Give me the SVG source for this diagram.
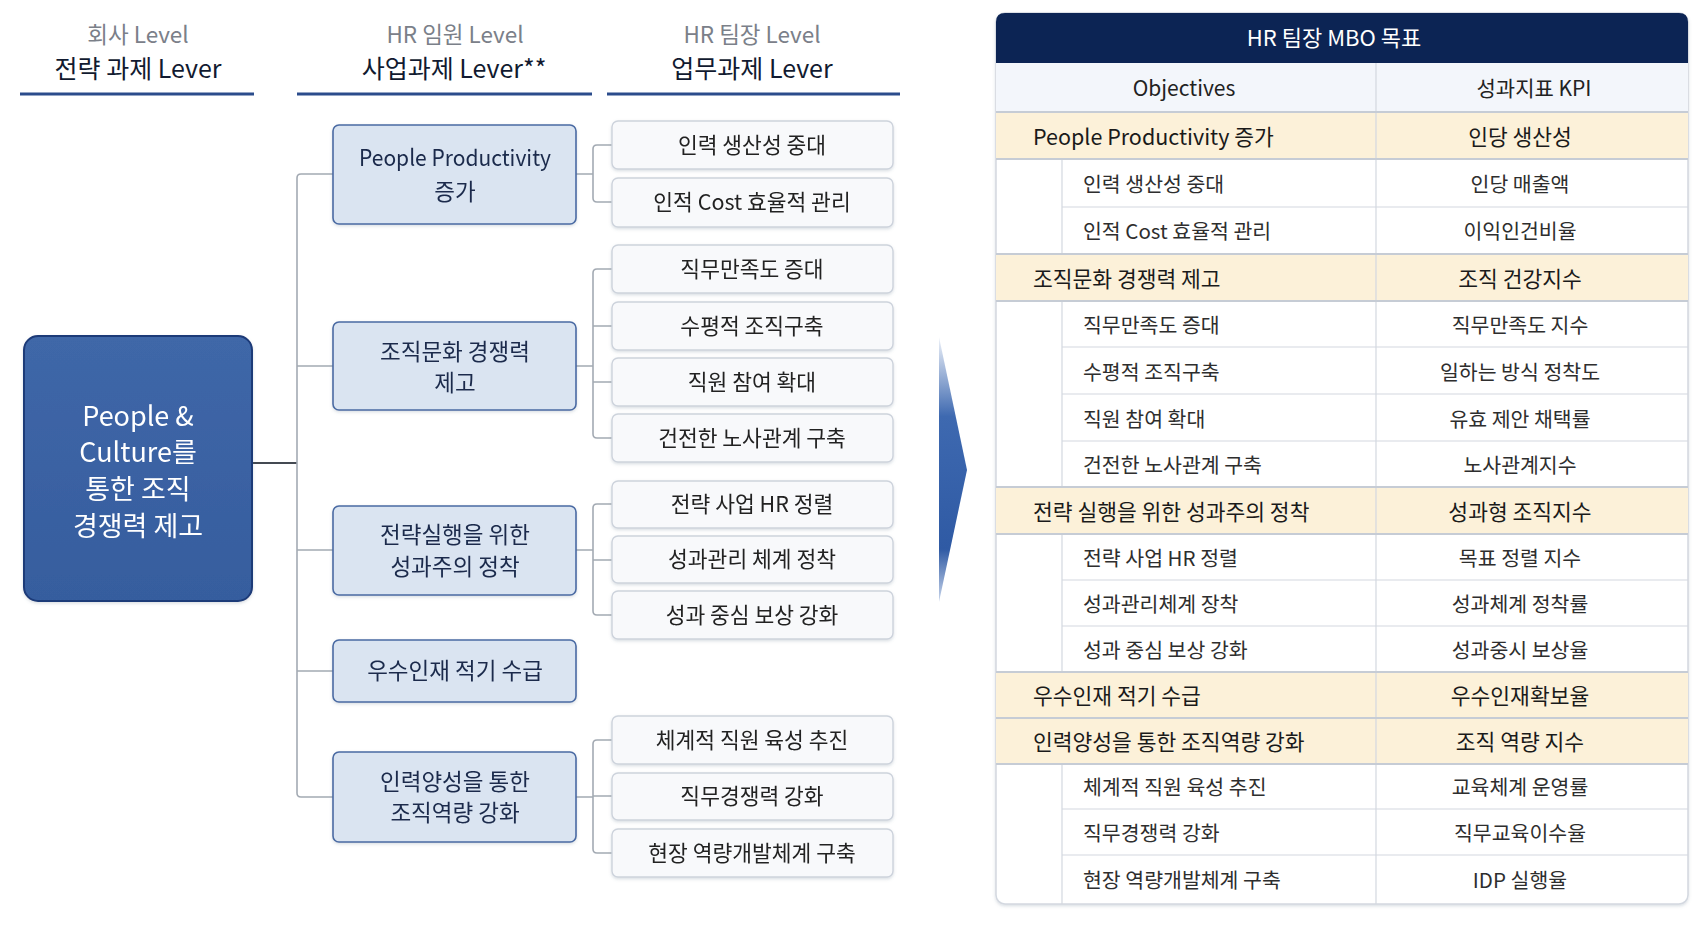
<svg xmlns="http://www.w3.org/2000/svg" width="1701" height="925" viewBox="0 0 1701 925">
<style>
text{font-family:"Noto Sans CJK KR","Noto Sans",sans-serif;}
.lvl{font-size:22.5px;fill:#7b8089;text-anchor:middle;}
.lev{font-size:25px;fill:#111a30;text-anchor:middle;font-weight:400;}
.uline{stroke:#2b4c8c;stroke-width:3;}
.mid rect{fill:#dae4f1;stroke:#4a6aa3;stroke-width:1.6;}
.mid text{font-size:22.5px;fill:#1a2a4c;text-anchor:middle;}
.leaf rect{fill:#f8f9fb;stroke:#cdd3dc;stroke-width:1.4;}
.leaf text{font-size:21.5px;fill:#222;text-anchor:middle;}
.conn{fill:none;stroke:#a3aab3;stroke-width:1.6;}
.trunk{fill:none;stroke:#444a52;stroke-width:2.2;}
.sec{fill:#fcf1d9;}
.tline{stroke:#d3d8e0;stroke-width:1.2;}
.sline{stroke:#c6ccd5;stroke-width:2;}
.st{font-size:21.5px;fill:#1a1a1a;}
.sk{font-size:21.5px;fill:#1a1a1a;text-anchor:middle;}
.sub{font-size:20.5px;fill:#2e2e2e;}
.subk{font-size:20.5px;fill:#2e2e2e;text-anchor:middle;}
</style>
<defs>
<linearGradient id="arrowGrad" x1="0" y1="0" x2="0" y2="1">
<stop offset="0" stop-color="#eef2f9"/>
<stop offset="0.3" stop-color="#3e69b0"/>
<stop offset="0.8" stop-color="#2f5aa4"/>
<stop offset="1" stop-color="#c9d6ec"/>
</linearGradient>
<linearGradient id="coreGrad" x1="0" y1="0" x2="0" y2="1">
<stop offset="0" stop-color="#3f67a8"/>
<stop offset="1" stop-color="#365d9e"/>
</linearGradient>
<filter id="sh" x="-10%" y="-10%" width="120%" height="130%">
<feDropShadow dx="0" dy="1.5" stdDeviation="1.5" flood-color="#6a7a90" flood-opacity="0.25"/>
</filter>
</defs>
<rect width="1701" height="925" fill="#ffffff"/>

<g id="headers">
<text class="lvl" x="138" y="43">회사 Level</text>
<text class="lev" x="138" y="78">전략 과제 Lever</text>
<line class="uline" x1="20" y1="94" x2="254" y2="94"/>
<text class="lvl" x="455" y="43">HR 임원 Level</text>
<text class="lev" x="454" y="78">사업과제 Lever**</text>
<line class="uline" x1="297" y1="94" x2="592" y2="94"/>
<text class="lvl" x="752" y="43">HR 팀장 Level</text>
<text class="lev" x="752" y="78">업무과제 Lever</text>
<line class="uline" x1="607" y1="94" x2="900" y2="94"/>
</g>

<g id="connectors">
<path class="trunk" d="M252 463 H297"/>
<path class="conn" d="M333 174 H301 Q297 174 297 178 V793 Q297 797 301 797 H333"/>
<path class="conn" d="M297 366 H333 M297 550 H333 M297 671 H333"/>
<path class="conn" d="M576 174 H593 M612 145 H597 Q593 145 593 149 V198 Q593 202 597 202 H612"/>
<path class="conn" d="M576 366 H593 M612 269 H597 Q593 269 593 273 V434 Q593 438 597 438 H612 M593 326 H612 M593 382 H612"/>
<path class="conn" d="M576 550 H593 M612 504 H597 Q593 504 593 508 V611 Q593 615 597 615 H612 M593 560 H612"/>
<path class="conn" d="M576 797 H593 M612 740 H597 Q593 740 593 744 V849 Q593 853 597 853 H612 M593 796 H612"/>
</g>

<g id="core" filter="url(#sh)">
<rect x="24" y="336" width="228" height="265" rx="14" fill="url(#coreGrad)" stroke="#1d3a78" stroke-width="2"/>
<text x="138" y="426" font-size="27" fill="#ffffff" text-anchor="middle">People &amp;</text>
<text x="138" y="462" font-size="27" fill="#ffffff" text-anchor="middle">Culture를</text>
<text x="138" y="499" font-size="27" fill="#ffffff" text-anchor="middle">통한 조직</text>
<text x="138" y="536" font-size="27" fill="#ffffff" text-anchor="middle">경쟁력 제고</text>
</g>

<g id="m1" class="mid" filter="url(#sh)"><rect x="333" y="125" width="243" height="99" rx="6"/><text x="455" y="166" textLength="192" lengthAdjust="spacingAndGlyphs">People Productivity</text><text x="455" y="200">증가</text></g>
<g id="m2" class="mid" filter="url(#sh)"><rect x="333" y="322" width="243" height="88" rx="6"/><text x="455" y="360">조직문화 경쟁력</text><text x="455" y="391">제고</text></g>
<g id="m3" class="mid" filter="url(#sh)"><rect x="333" y="506" width="243" height="89" rx="6"/><text x="455" y="543">전략실행을 위한</text><text x="455" y="575">성과주의 정착</text></g>
<g id="m4" class="mid" filter="url(#sh)"><rect x="333" y="640" width="243" height="62" rx="6"/><text x="455" y="679">우수인재 적기 수급</text></g>
<g id="m5" class="mid" filter="url(#sh)"><rect x="333" y="752" width="243" height="90" rx="6"/><text x="455" y="790">인력양성을 통한</text><text x="455" y="821">조직역량 강화</text></g>

<g id="l1" class="leaf" filter="url(#sh)"><rect x="612" y="121" width="281" height="48" rx="6"/><text x="752" y="153">인력 생산성 중대</text></g>
<g id="l2" class="leaf" filter="url(#sh)"><rect x="612" y="178" width="281" height="49" rx="6"/><text x="752" y="210">인적 Cost 효율적 관리</text></g>
<g id="l3" class="leaf" filter="url(#sh)"><rect x="612" y="245" width="281" height="48" rx="6"/><text x="752" y="277">직무만족도 증대</text></g>
<g id="l4" class="leaf" filter="url(#sh)"><rect x="612" y="302" width="281" height="48" rx="6"/><text x="752" y="334">수평적 조직구축</text></g>
<g id="l5" class="leaf" filter="url(#sh)"><rect x="612" y="358" width="281" height="48" rx="6"/><text x="752" y="390">직원 참여 확대</text></g>
<g id="l6" class="leaf" filter="url(#sh)"><rect x="612" y="414" width="281" height="48" rx="6"/><text x="752" y="446">건전한 노사관계 구축</text></g>
<g id="l7" class="leaf" filter="url(#sh)"><rect x="612" y="481" width="281" height="47" rx="6"/><text x="752" y="512">전략 사업 HR 정렬</text></g>
<g id="l8" class="leaf" filter="url(#sh)"><rect x="612" y="536" width="281" height="47" rx="6"/><text x="752" y="567">성과관리 체계 정착</text></g>
<g id="l9" class="leaf" filter="url(#sh)"><rect x="612" y="591" width="281" height="48" rx="6"/><text x="752" y="623">성과 중심 보상 강화</text></g>
<g id="l10" class="leaf" filter="url(#sh)"><rect x="612" y="716" width="281" height="48" rx="6"/><text x="752" y="748">체계적 직원 육성 추진</text></g>
<g id="l11" class="leaf" filter="url(#sh)"><rect x="612" y="773" width="281" height="47" rx="6"/><text x="752" y="804">직무경쟁력 강화</text></g>
<g id="l12" class="leaf" filter="url(#sh)"><rect x="612" y="829" width="281" height="48" rx="6"/><text x="752" y="861">현장 역량개발체계 구축</text></g>

<g id="arrow">
<polygon points="939,337 967,470 939,602" fill="url(#arrowGrad)"/>
</g>

<g id="mbo-table">
<rect x="996" y="13" width="692" height="891" rx="9" fill="#ffffff" stroke="#d3d8e0" stroke-width="1.5" filter="url(#sh)"/>
<path d="M996 63 V22 Q996 13 1005 13 H1679 Q1688 13 1688 22 V63 Z" fill="#0c2454"/>
<text x="1334" y="46" font-size="22" fill="#ffffff" text-anchor="middle">HR 팀장 MBO 목표</text>
<rect x="996" y="63" width="692" height="49" fill="#f3f6fb"/>
<text x="1184" y="96" font-size="21" fill="#222" text-anchor="middle">Objectives</text>
<text x="1534" y="96" font-size="21" fill="#222" text-anchor="middle">성과지표 KPI</text>

<rect class="sec" x="996" y="112" width="692" height="47"/>
<rect class="sec" x="996" y="254" width="692" height="47"/>
<rect class="sec" x="996" y="487" width="692" height="47"/>
<rect class="sec" x="996" y="672" width="692" height="92"/>

<line class="tline" x1="1062" y1="207" x2="1688" y2="207"/>
<line class="tline" x1="1062" y1="347" x2="1688" y2="347"/>
<line class="tline" x1="1062" y1="394" x2="1688" y2="394"/>
<line class="tline" x1="1062" y1="441" x2="1688" y2="441"/>
<line class="tline" x1="1062" y1="580" x2="1688" y2="580"/>
<line class="tline" x1="1062" y1="626" x2="1688" y2="626"/>
<line class="tline" x1="1062" y1="809" x2="1688" y2="809"/>
<line class="tline" x1="1062" y1="855" x2="1688" y2="855"/>
<line class="tline" x1="1062" y1="159" x2="1062" y2="254"/>
<line class="tline" x1="1062" y1="301" x2="1062" y2="487"/>
<line class="tline" x1="1062" y1="534" x2="1062" y2="672"/>
<line class="tline" x1="1062" y1="764" x2="1062" y2="904"/>
<line class="tline" x1="1376" y1="63" x2="1376" y2="904"/>

<line class="sline" x1="996" y1="112" x2="1688" y2="112"/>
<line class="sline" x1="996" y1="159" x2="1688" y2="159"/>
<line class="sline" x1="996" y1="254" x2="1688" y2="254"/>
<line class="sline" x1="996" y1="301" x2="1688" y2="301"/>
<line class="sline" x1="996" y1="487" x2="1688" y2="487"/>
<line class="sline" x1="996" y1="534" x2="1688" y2="534"/>
<line class="sline" x1="996" y1="672" x2="1688" y2="672"/>
<line class="sline" x1="996" y1="718" x2="1688" y2="718"/>
<line class="sline" x1="996" y1="764" x2="1688" y2="764"/>

<text class="st" x="1033" y="145">People Productivity 증가</text><text class="sk" x="1520" y="145">인당 생산성</text>
<text class="sub" x="1083" y="192">인력 생산성 중대</text><text class="subk" x="1520" y="192">인당 매출액</text>
<text class="sub" x="1083" y="239">인적 Cost 효율적 관리</text><text class="subk" x="1520" y="239">이익인건비율</text>
<text class="st" x="1033" y="287">조직문화 경쟁력 제고</text><text class="sk" x="1520" y="287">조직 건강지수</text>
<text class="sub" x="1083" y="333">직무만족도 증대</text><text class="subk" x="1520" y="333">직무만족도 지수</text>
<text class="sub" x="1083" y="380">수평적 조직구축</text><text class="subk" x="1520" y="380">일하는 방식 정착도</text>
<text class="sub" x="1083" y="427">직원 참여 확대</text><text class="subk" x="1520" y="427">유효 제안 채택률</text>
<text class="sub" x="1083" y="473">건전한 노사관계 구축</text><text class="subk" x="1520" y="473">노사관계지수</text>
<text class="st" x="1033" y="520">전략 실행을 위한 성과주의 정착</text><text class="sk" x="1520" y="520">성과형 조직지수</text>
<text class="sub" x="1083" y="566">전략 사업 HR 정렬</text><text class="subk" x="1520" y="566">목표 정렬 지수</text>
<text class="sub" x="1083" y="612">성과관리체계 장착</text><text class="subk" x="1520" y="612">성과체계 정착률</text>
<text class="sub" x="1083" y="658">성과 중심 보상 강화</text><text class="subk" x="1520" y="658">성과중시 보상율</text>
<text class="st" x="1033" y="704">우수인재 적기 수급</text><text class="sk" x="1520" y="704">우수인재확보율</text>
<text class="st" x="1033" y="750">인력양성을 통한 조직역량 강화</text><text class="sk" x="1520" y="750">조직 역량 지수</text>
<text class="sub" x="1083" y="795">체계적 직원 육성 추진</text><text class="subk" x="1520" y="795">교육체계 운영률</text>
<text class="sub" x="1083" y="841">직무경쟁력 강화</text><text class="subk" x="1520" y="841">직무교육이수율</text>
<text class="sub" x="1083" y="888">현장 역량개발체계 구축</text><text class="subk" x="1520" y="888">IDP 실행율</text>
</g>
</svg>
